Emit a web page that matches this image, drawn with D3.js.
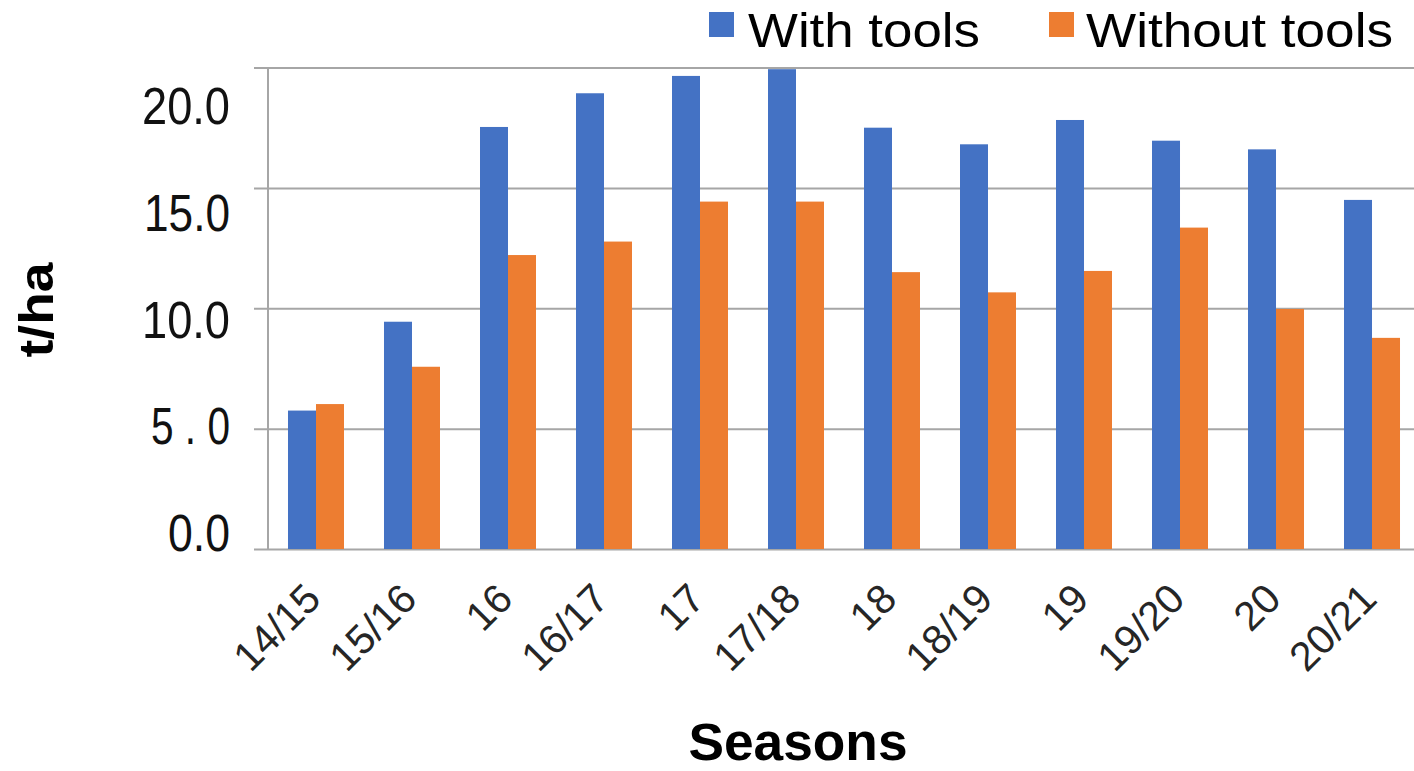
<!DOCTYPE html>
<html>
<head>
<meta charset="utf-8">
<script src="https://cdn.jsdelivr.net/npm/d3@7"></script>
<style>
  html, body { margin: 0; padding: 0; background: #fff; }
  svg { display: block; font-family: "Liberation Sans", Arial, sans-serif; }
</style>
</head>
<body>
<svg id="chart" width="1414" height="771"></svg>
<script>
// Seasons on the x axis
const seasons = ["14/15", "15/16", "16", "16/17", "17", "17/18", "18", "18/19", "19", "19/20", "20", "20/21"];
// Yield (t/ha) per season
const withTools    = [5.75, 9.44, 17.53, 18.93, 19.65, 19.93, 17.5, 16.81, 17.82, 16.96, 16.6, 14.5];
const withoutTools = [6.02, 7.57, 12.21, 12.77, 14.43, 14.43, 11.5, 10.66, 11.55, 13.35, 9.97, 8.77];
// Y axis ticks and their labels
const yTicks = [0, 5, 10, 15, 20];
const yTickLabels = ["0.0", "5 . 0", "10.0", "15.0", "20.0"];
const seriesNames = ["With tools", "Without tools"];
const colors = ["#4472C4", "#ED7D31"];

const svg = d3.select("#chart");
const plot = { left: 268, right: 1420, top: 67.5, bottom: 549 };

const x0 = d3.scaleBand().domain(seasons).range([plot.left, plot.right]).paddingInner(0.4167).paddingOuter(0.2083);
const x1 = d3.scaleBand().domain(seriesNames).range([0, x0.bandwidth()]);
const y = d3.scaleLinear().domain([0, 20]).range([plot.bottom, plot.top]);
// tick labels sit on their own evenly spaced rows
const yLabel = d3.scaleLinear().domain([0, 20]).range([551, 124]);
const labelWidths = { "0.0": 62, "5 . 0": 79, "10.0": 88, "15.0": 86, "20.0": 88 };

// gridlines with short outer ticks
const gridAxis = d3.axisLeft(y).tickValues(yTicks).tickSize(-(1414 - plot.left)).tickFormat("");
const gGrid = svg.append("g").attr("transform", `translate(${plot.left},0)`).call(gridAxis);
gGrid.select(".domain").remove();
gGrid.selectAll(".tick line").attr("stroke", "#A6A6A6").attr("stroke-width", 2).attr("x1", -14);

// vertical axis line
svg.append("line")
  .attr("x1", plot.left).attr("x2", plot.left)
  .attr("y1", y(20)).attr("y2", y(0))
  .attr("stroke", "#A6A6A6").attr("stroke-width", 2);

// y tick labels
svg.append("g").selectAll("text").data(yTicks).join("text")
  .attr("x", 230)
  .attr("y", d => yLabel(d))
  .attr("text-anchor", "end")
  .attr("font-size", 51)
  .attr("fill", "#111")
  .attr("textLength", (d, i) => labelWidths[yTickLabels[i]])
  .attr("lengthAdjust", "spacingAndGlyphs")
  .text((d, i) => yTickLabels[i]);

// bars
const groups = svg.append("g").selectAll("g").data(seasons).join("g")
  .attr("transform", d => `translate(${x0(d)},0)`);
groups.selectAll("rect")
  .data((d, i) => [withTools[i], withoutTools[i]].map((v, k) => ({ v, k })))
  .join("rect")
  .attr("x", d => x1(seriesNames[d.k]))
  .attr("width", x1.bandwidth())
  .attr("y", d => y(d.v))
  .attr("height", d => y(0) - y(d.v))
  .attr("fill", d => colors[d.k]);

// x tick labels, rotated
svg.append("g").selectAll("text").data(seasons).join("text")
  .attr("transform", d => `translate(${x0(d) + x0.bandwidth() / 2 + 7},601) rotate(-45)`)
  .attr("text-anchor", "end")
  .attr("font-size", 41)
  .attr("fill", "#262626")
  .text(d => d);

// axis titles
svg.append("text")
  .attr("transform", "translate(53,310) rotate(-90)")
  .attr("text-anchor", "middle")
  .attr("font-size", 48)
  .attr("font-weight", "bold")
  .attr("textLength", 95)
  .attr("lengthAdjust", "spacingAndGlyphs")
  .text("t/ha");

svg.append("text")
  .attr("x", 798).attr("y", 760)
  .attr("text-anchor", "middle")
  .attr("font-size", 51)
  .attr("font-weight", "bold")
  .attr("textLength", 219)
  .attr("lengthAdjust", "spacingAndGlyphs")
  .text("Seasons");

// legend
const legendItems = [
  { name: seriesNames[0], sx: 709, tx: 748, w: 232 },
  { name: seriesNames[1], sx: 1049, tx: 1086, w: 307 }
];
const lg = svg.append("g");
lg.selectAll("rect").data(legendItems).join("rect")
  .attr("x", d => d.sx).attr("y", 12).attr("width", 25).attr("height", 25)
  .attr("fill", (d, i) => colors[i]);
lg.selectAll("text").data(legendItems).join("text")
  .attr("x", d => d.tx).attr("y", 47)
  .attr("font-size", 48)
  .attr("fill", "#000")
  .attr("textLength", d => d.w)
  .attr("lengthAdjust", "spacingAndGlyphs")
  .text(d => d.name);
</script>
</body>
</html>
